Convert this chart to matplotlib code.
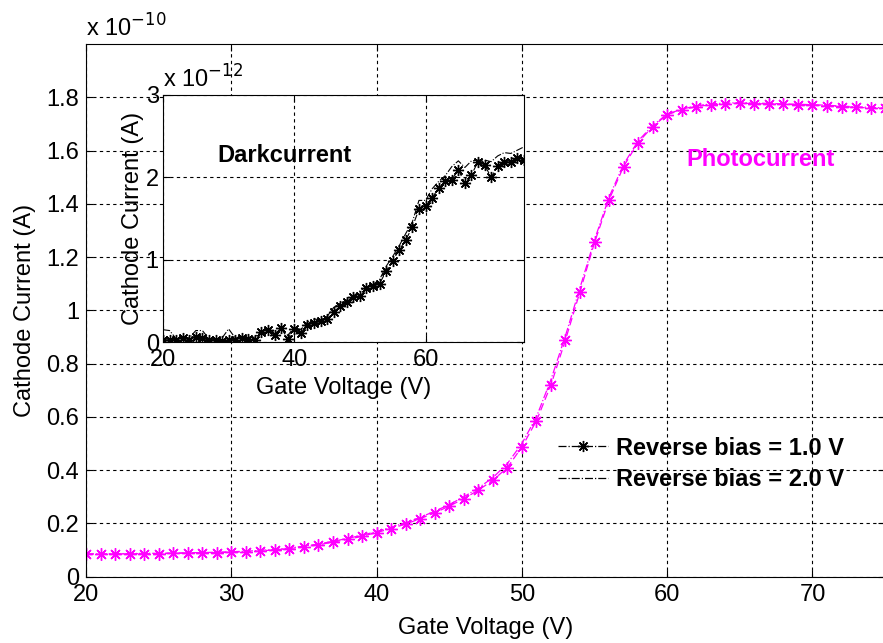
import numpy as np
import matplotlib
matplotlib.use("Agg")
import matplotlib.pyplot as plt
from matplotlib.lines import Line2D

plt.rcParams['font.family'] = ['Liberation Sans', 'DejaVu Sans']

# gate voltage (V), 1 V steps
gate_v = list(range(20, 76))

# photocurrent, units of 1e-10 A
photo_1v = [0.085, 0.085, 0.086, 0.086, 0.087, 0.087, 0.088, 0.089, 0.090, 0.091,
            0.092, 0.094, 0.097, 0.101, 0.106, 0.112, 0.120, 0.130, 0.140, 0.152,
            0.166, 0.181, 0.198, 0.218, 0.240, 0.265, 0.293, 0.325, 0.362, 0.410,
            0.487, 0.585, 0.720, 0.889, 1.070, 1.255, 1.415, 1.540, 1.630, 1.690,
            1.735, 1.752, 1.765, 1.772, 1.775, 1.778, 1.776, 1.775, 1.773, 1.772,
            1.770, 1.768, 1.765, 1.762, 1.760, 1.758]
photo_2v = [0.086, 0.086, 0.087, 0.087, 0.088, 0.088, 0.089, 0.090, 0.091, 0.092,
            0.094, 0.096, 0.099, 0.103, 0.108, 0.115, 0.123, 0.133, 0.144, 0.156,
            0.170, 0.186, 0.203, 0.223, 0.246, 0.271, 0.300, 0.333, 0.372, 0.425,
            0.500, 0.600, 0.740, 0.905, 1.085, 1.265, 1.425, 1.548, 1.636, 1.694,
            1.737, 1.755, 1.768, 1.775, 1.778, 1.780, 1.778, 1.777, 1.775, 1.774,
            1.772, 1.770, 1.767, 1.764, 1.762, 1.760]

# dark current, units of 1e-12 A
dark_1v = [0.02, 0.03, 0.03, 0.05, 0.03, 0.06, 0.05, 0.02, 0.03, 0.01,
           0.03, 0.03, 0.05, 0.04, 0.02, 0.12, 0.15, 0.09, 0.17, 0.04,
           0.16, 0.11, 0.21, 0.23, 0.25, 0.28, 0.37, 0.44, 0.49, 0.55,
           0.56, 0.66, 0.68, 0.71, 0.86, 0.99, 1.12, 1.24, 1.40, 1.61,
           1.65, 1.75, 1.87, 1.95, 1.97, 2.09, 1.93, 2.03, 2.19, 2.15,
           2.00, 2.14, 2.19, 2.19, 2.23, 2.21]
dark_2v = [0.15, 0.14, 0.04, 0.05, 0.05, 0.14, 0.14, 0.04, 0.03, 0.05,
           0.16, 0.05, 0.07, 0.06, 0.06, 0.13, 0.17, 0.11, 0.16, 0.08,
           0.18, 0.15, 0.24, 0.28, 0.27, 0.31, 0.42, 0.47, 0.51, 0.56,
           0.62, 0.67, 0.70, 0.76, 0.92, 1.04, 1.17, 1.32, 1.46, 1.72,
           1.72, 1.86, 1.95, 2.02, 2.13, 2.20, 2.12, 2.20, 2.21, 2.21,
           2.19, 2.26, 2.30, 2.29, 2.33, 2.37]

main_yticks = [0, 0.2, 0.4, 0.6, 0.8, 1.0, 1.2, 1.4, 1.6, 1.8]
main_ylabels = ['0', '0.2', '0.4', '0.6', '0.8', '1', '1.2', '1.4', '1.6', '1.8']
main_xticks = [20, 30, 40, 50, 60, 70]
inset_xticks = [20, 40, 60]
inset_yticks = [0, 1, 2, 3]

mag = '#ff00ff'
fs = 17
star = (8, 2, 0)  # matlab style asterisk
grid_kw = dict(color='black', linestyle=(0, (3, 3)), linewidth=0.8)

fig = plt.figure(figsize=(8.83, 6.43), dpi=100)
ax = fig.add_axes([0.0974, 0.103, 0.905, 0.8286])

ax.plot(gate_v, photo_1v, color=mag, linestyle=(0, (6, 3)), linewidth=0.9,
        marker=star, markersize=9, markeredgewidth=1.0)
ax.plot(gate_v, photo_2v, color=mag, linestyle='-.', linewidth=0.9)

ax.set_xlim(20, 75)
ax.set_ylim(0, 2.0)
ax.set_xticks(main_xticks)
ax.set_yticks(main_yticks)
ax.set_yticklabels(main_ylabels)
ax.tick_params(direction='in', top=True, right=True, labelsize=fs, length=5,
               pad=5)
ax.grid(True, **grid_kw)
ax.set_xlabel('Gate Voltage (V)', fontsize=fs, labelpad=8)
ax.set_ylabel('Cathode Current (A)', fontsize=fs, labelpad=7)
ax.text(0.0, 1.004, r'x 10$^{-10}$', transform=ax.transAxes, fontsize=fs,
        ha='left', va='bottom')
ax.text(61.3, 1.565, 'Photocurrent', color=mag, fontsize=fs, fontweight='bold',
        va='center')

# legend drawn in black like the original
handles = [Line2D([], [], color='black', linestyle='-.', linewidth=0.9,
                  marker=star, markersize=8),
           Line2D([], [], color='black', linestyle='-.', linewidth=0.9)]
ax.legend(handles, ['Reverse bias = 1.0 V', 'Reverse bias = 2.0 V'],
          loc='center left', bbox_to_anchor=(0.576, 0.212), frameon=False,
          prop={'size': fs, 'weight': 'bold'}, handlelength=2.1,
          labelspacing=0.35, handletextpad=0.35, borderpad=0)

# inset with dark current
ins = fig.add_axes([0.1846, 0.468, 0.4088, 0.3843])
ins.plot(gate_v, dark_1v, color='black', linestyle=(0, (6, 3)), linewidth=0.8,
         marker=star, markersize=8, markeredgewidth=1.0)
ins.plot(gate_v, dark_2v, color='black', linestyle='-.', linewidth=0.8)
ins.set_xlim(20, 75)
ins.set_ylim(0, 3)
ins.set_xticks(inset_xticks)
ins.set_yticks(inset_yticks)
ins.tick_params(direction='in', top=True, right=True, labelsize=fs, length=5,
                pad=3)
ins.tick_params(axis='x', pad=5)
ins.grid(True, **grid_kw)
ins.set_xlabel('Gate Voltage (V)', fontsize=fs, labelpad=4)
ins.set_ylabel('Cathode Current (A)', fontsize=fs, labelpad=1)
ins.text(0.0, 1.01, r'x 10$^{-12}$', transform=ins.transAxes, fontsize=fs,
         ha='left', va='bottom')
ins.text(0.152, 0.757, 'Darkcurrent', transform=ins.transAxes, fontsize=fs,
         fontweight='bold', va='center')

fig.savefig('out.png', dpi=100)
